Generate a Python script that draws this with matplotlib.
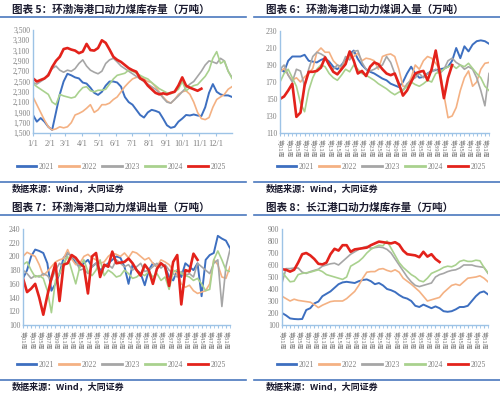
import matplotlib
matplotlib.use("Agg")
import matplotlib.pyplot as plt
from matplotlib.lines import Line2D
import numpy as np

plt.rcParams['font.family'] = ['Liberation Serif', 'Noto Sans CJK SC', 'DejaVu Sans']

years = ['2021', '2022', '2023', '2024', '2025']
colors = ['#3d6fc0', '#f4b183', '#a6a6a6', '#a9d18e', '#e3221b']
widths = [1.4, 1.2, 1.2, 1.2, 1.9]

# ---------- Panel 1: 环渤海港口动力煤库存量 (weekly samples, day-of-year) ----------
stock_days_step = 7
bh_stock_2021 = [1850, 1720, 1790, 1720, 1620, 1560, 1900, 2250, 2500, 2650, 2620, 2580, 2560,
                 2480, 2460, 2380, 2280, 2240, 2300, 2420, 2500, 2500, 2480, 2400, 2200, 2100,
                 2050, 1950, 1850, 1800, 1900, 1950, 1930, 1900, 1780, 1650, 1600, 1620, 1720,
                 1780, 1850, 1840, 1860, 1840, 1830, 2000, 2280, 2450, 2300, 2250, 2230, 2230, 2200]
bh_stock_2022 = [2200, 2050, 1900, 1750, 1620, 1560, 1580, 1620, 1600, 1620, 1700, 1850, 1880,
                 1920, 1980, 2050, 1900, 1950, 2050, 2050, 2080, 2150, 2200, 2300, 2400, 2480,
                 2550, 2580, 2600, 2550, 2500, 2480, 2400, 2300, 2200, 2120, 2080, 2150, 2250,
                 2300, 2320, 2250, 2100, 1900, 1780, 1760, 1800, 2000, 2150, 2200, 2250, 2350, 2400]
bh_stock_2023 = [2480, 2450, 2500, 2550, 2650, 2750, 2800, 2720, 2680, 2720, 2700, 2750, 2850,
                 2920, 2800, 2720, 2680, 2650, 2700, 2850, 2920, 2950, 2880, 2800, 2750, 2700,
                 2650, 2600, 2550, 2500, 2450, 2400, 2350, 2280, 2180, 2100, 2080, 2150, 2220,
                 2300, 2380, 2450, 2500, 2600, 2700, 2820, 2900, 2880, 2850, 2950, 2900, 2700, 2580]
bh_stock_2024 = [2460, 2400, 2350, 2300, 2250, 2100, 2050, 2250, 2220, 2200, 2180, 2200, 2300,
                 2380, 2400, 2320, 2300, 2330, 2330, 2350, 2450, 2550, 2620, 2640, 2660, 2720,
                 2700, 2660, 2620, 2580, 2550, 2480, 2420, 2360, 2320, 2280, 2260, 2300, 2350,
                 2500, 2320, 2380, 2420, 2440, 2520, 2600, 2720, 2950, 3080, 2850, 2900, 2700, 2560]
bh_stock_2025 = [2560, 2500, 2530, 2560, 2620, 2780, 2900, 2980, 3130, 3150, 3120, 3100, 3050,
                 3080, 3230, 3110, 3100, 3150, 3300, 3250, 3120, 2980, 2920, 2880, 2820, 2760,
                 2720, 2690, 2560, 2520, 2420, 2350, 2280, 2250, 2270, 2250, 2280, 2300, 2420,
                 2580, 2420, 2380, 2350, 2320, 2360]
month_labels = ['1/1', '2/1', '3/1', '4/1', '5/1', '6/1', '7/1', '8/1', '9/1', '10/1', '11/1', '12/1']
month_days = [0, 31, 59, 90, 120, 151, 181, 212, 243, 273, 304, 334]

# ---------- Panel 2: 环渤海港口动力煤调入量 (weekly) ----------
bh_in_2021 = [186, 182, 195, 200, 200, 200, 202, 195, 194, 193, 196, 198, 194, 188, 185, 190, 196,
              203, 207, 197, 190, 185, 182, 180, 177, 174, 172, 168, 166, 164, 170, 180, 188, 180,
              175, 176, 180, 183, 184, 185, 186, 188, 195, 210, 198, 212, 206, 214, 218, 219, 218, 215]
bh_in_2022 = [182, 186, 178, 172, 175, 170, 176, 180, 186, 205, 210, 205, 205, 195, 190, 185, 195,
              200, 200, 204, 195, 198, 197, 195, 185, 200, 202, 203, 200, 185, 165, 165, 175, 190,
              185, 195, 200, 198, 192, 185, 155, 128, 130, 140, 160, 175, 183, 165, 170, 185, 192, 193]
bh_in_2023 = [185, 190, 178, 170, 185, 183, 165, 185, 200, 205, 203, 200, 190, 185, 190, 188, 200,
              196, 206, 207, 193, 185, 183, 185, 188, 190, 200, 193, 180, 165, 160, 168, 172, 175,
              180, 175, 180, 182, 185, 180, 185, 195, 198, 193, 190, 185, 188, 185, 175, 160, 142, 180]
bh_in_2024 = [170, 180, 185, 175, 165, 145, 135, 160, 175, 185, 190, 188, 180, 175, 172, 178, 185,
              182, 190, 185, 180, 178, 175, 172, 168, 165, 162, 158, 155, 158, 160, 165, 170, 167,
              165, 168, 172, 170, 180, 182, 185, 188, 190, 186, 190, 188, 192, 186, 180, 175, 165, 160]
bh_in_2025 = [150, 153, 160, 168, 129, 134, 166, 182, 182, 183, 187, 199, 190, 182, 179, 185, 191,
              206, 195, 180, 183, 177, 188, 193, 191, 185, 180, 178, 180, 168, 154, 160, 170, 180,
              182, 183, 172, 185, 207, 180, 151, 175, 190]

# ---------- Panel 3: 环渤海港口动力煤调出量 (weekly) ----------
bh_out_2021 = [168, 180, 200, 210, 208, 205, 190, 150, 160, 175, 198, 205, 200, 190, 185, 190, 195,
               185, 190, 180, 185, 190, 195, 200, 198, 185, 160, 188, 180, 175, 158, 180, 190, 185,
               190, 185, 170, 165, 180, 170, 190, 185, 180, 190, 142, 195, 202, 205, 230, 226, 223, 212]
bh_out_2022 = [200, 206, 203, 200, 188, 172, 178, 185, 192, 195, 197, 210, 196, 188, 190, 200, 203,
               198, 195, 190, 192, 200, 205, 203, 200, 205, 198, 207, 205, 200, 195, 198, 190, 185,
               195, 192, 188, 180, 175, 160, 155, 158, 150, 146, 148, 150, 160, 195, 188, 170, 168, 185]
bh_out_2023 = [180, 175, 168, 172, 170, 175, 172, 165, 180, 190, 185, 205, 200, 195, 180, 182, 175,
               185, 190, 175, 185, 188, 183, 195, 190, 185, 188, 180, 185, 190, 178, 180, 185, 190,
               183, 188, 180, 175, 170, 178, 172, 175, 170, 190, 185, 180, 175, 190, 195, 127, 185, 210]
bh_out_2024 = [188, 192, 180, 170, 172, 168, 150, 118, 165, 175, 190, 200, 180, 160, 185, 195, 178,
               172, 180, 195, 172, 180, 176, 170, 172, 180, 175, 168, 170, 175, 172, 178, 170, 175,
               165, 170, 152, 178, 180, 175, 172, 170, 165, 168, 160, 150, 152, 195, 208, 195, 180, 178]
bh_out_2025 = [168, 148, 153, 160, 140, 115, 143, 168, 190, 135, 188, 190, 202, 198, 190, 185, 146,
               200, 205, 170, 188, 185, 207, 190, 191, 192, 197, 190, 180, 172, 188, 180, 160, 182,
               190, 185, 157, 192, 202, 130, 180, 178, 204, 195]

# ---------- Panel 4: 长江港口动力煤库存量 (weekly) ----------
cj_stock_2021 = [200, 180, 155, 150, 148, 150, 225, 240, 280, 295, 340, 360, 380, 410, 440, 455, 460,
                 455, 450, 465, 475, 480, 465, 440, 450, 430, 400, 390, 375, 350, 330, 320, 300, 260,
                 250, 270, 255, 240, 255, 240, 215, 210, 215, 230, 250, 250, 260, 300, 340, 370, 380, 355]
cj_stock_2022 = [340, 320, 300, 315, 305, 300, 295, 290, 270, 245, 265, 280, 295, 300, 300, 300, 320,
                 350, 380, 430, 490, 540, 545, 545, 565, 570, 555, 545, 560, 540, 490, 465, 440, 410,
                 380, 340, 300, 310, 320, 330, 370, 400, 430, 440, 430, 460, 490, 495, 500, 510, 490, 460]
cj_stock_2023 = [450, 570, 570, 575, 575, 540, 530, 545, 555, 565, 590, 600, 610, 615, 600, 630, 660,
                 690, 710, 730, 745, 755, 740, 745, 750, 745, 730, 700, 650, 600, 550, 500, 460, 430,
                 420, 430, 440, 450, 500, 520, 530, 545, 555, 560, 575, 600, 600, 600, 590, 585, 580, 530]
cj_stock_2024 = [540, 500, 460, 465, 520, 530, 535, 540, 550, 560, 545, 520, 510, 500, 490, 480, 500,
                 590, 610, 630, 660, 700, 730, 750, 765, 760, 800, 740, 680, 620, 580, 550, 520, 500,
                 470, 460, 490, 530, 545, 560, 580, 590, 585, 600, 630, 640, 630, 630, 640, 635, 580, 535]
cj_stock_2025 = [565, 560, 545, 560, 620, 690, 700, 680, 650, 610, 605, 620, 690, 735, 720, 765, 765,
                 710, 730, 735, 740, 745, 765, 780, 795, 790, 785, 780, 790, 770, 720, 690, 685, 680,
                 665, 710, 670, 690, 650, 625]

week_labels = ['第%02d周' % w for w in range(1, 52, 2)]
week_ticks = list(range(1, 52, 2))

W, H = 500, 396
fig = plt.figure(figsize=(5.0, 3.96), dpi=100)

def fx(px):
    return px / W

def fy(py):
    return 1 - py / H

title_color = '#1c1c30'
sep_color = '#4a78bd'
spine_color = '#9dc3e6'
tick_color = '#7f7f7f'
cjk = ['Noto Sans CJK SC', 'DejaVu Sans']


def add_axes(l, t, r, b):
    return fig.add_axes([fx(l), fy(b), fx(r) - fx(l), fy(t) - fy(b)])


def style(ax):
    for s in ['top', 'right']:
        ax.spines[s].set_visible(False)
    for s in ['left', 'bottom']:
        ax.spines[s].set_color(spine_color)
        ax.spines[s].set_linewidth(1.0)
    ax.tick_params(axis='y', length=0, labelsize=5.5, labelcolor=tick_color, pad=2)
    ax.tick_params(axis='x', length=2, color=spine_color, labelsize=5.5, labelcolor=tick_color, pad=2)


def weekly(ax, series, ylim, yticks):
    for y, c, lw, s in zip(years, colors, widths, series):
        ax.plot(np.arange(1, len(s) + 1), s, color=c, lw=lw, label=y, solid_joinstyle='round')
    ax.set_xlim(1, 52)
    ax.set_ylim(*ylim)
    ax.set_yticks(yticks)
    ax.set_xticks(week_ticks)
    ax.set_xticklabels(week_labels, rotation=-90, family=cjk, fontsize=4.3)
    ax.set_xticks(range(1, 53), minor=True)
    ax.tick_params(axis='x', which='minor', length=2, color=spine_color)
    ax.tick_params(axis='x', which='major', length=2, color=spine_color, pad=1.5)
    style(ax)
    ax.tick_params(axis='x', labelsize=4.3)


def legend(ax, cx, cy):
    handles = [Line2D([0], [0], color=c, lw=2.0) for c in colors]
    fig.legend(handles, years, loc='center', bbox_to_anchor=(fx(cx), fy(cy)), ncol=5, frameon=False,
               fontsize=5.5, handlelength=2.6, columnspacing=0.7, handletextpad=0.3,
               borderpad=0.1, borderaxespad=0.0, labelcolor=tick_color)


def frame(x0, x1, ytitle, yline1, yline2, ysrc, title):
    fig.text(fx(x0 + 12), fy(ytitle), title, family=cjk, fontweight='bold', fontsize=7.6,
             color=title_color, va='center', ha='left')
    fig.add_artist(Line2D([fx(x0), fx(x1)], [fy(yline1), fy(yline1)], color=sep_color, lw=1.2))
    fig.add_artist(Line2D([fx(x0), fx(x1)], [fy(yline2), fy(yline2)], color=sep_color, lw=1.2))
    fig.text(fx(x0 + 12), fy(ysrc), '数据来源：Wind，大同证券', family=cjk, fontweight='bold',
             fontsize=6.5, color=title_color, va='center', ha='left')


# Panel 1
ax1 = add_axes(33, 30, 232, 133)
series1 = [bh_stock_2021, bh_stock_2022, bh_stock_2023, bh_stock_2024, bh_stock_2025]
for y, c, lw, s in zip(years, colors, widths, series1):
    ax1.plot(np.arange(len(s)) * stock_days_step, s, color=c, lw=lw, solid_joinstyle='round')
ax1.set_xlim(0, 364)
ax1.set_ylim(1500, 3500)
ax1.set_yticks(range(1500, 3501, 200))
ax1.set_yticklabels(['{:,}'.format(v) for v in range(1500, 3501, 200)])
ax1.set_xticks(month_days)
ax1.set_xticklabels(month_labels)
style(ax1)
ax1.tick_params(axis='x', labelsize=6, pad=3)
legend(ax1, 121, 167)
frame(0, 246, 10, 17, 182, 189, '图表 5：环渤海港口动力煤库存量（万吨）')

# Panel 2
ax2 = add_axes(280, 31, 489, 133)
weekly(ax2, [bh_in_2021, bh_in_2022, bh_in_2023, bh_in_2024, bh_in_2025], (110, 230), range(110, 231, 20))
legend(ax2, 381, 167)
frame(254, 500, 10, 17, 182, 189, '图表 6：环渤海港口动力煤调入量（万吨）')

# Panel 3
ax3 = add_axes(23, 229, 230, 325)
weekly(ax3, [bh_out_2021, bh_out_2022, bh_out_2023, bh_out_2024, bh_out_2025], (100, 240), range(100, 241, 20))
legend(ax3, 121, 365)
frame(0, 246, 208, 215, 380, 387, '图表 7：环渤海港口动力煤调出量（万吨）')

# Panel 4
ax4 = add_axes(282, 229, 488, 325)
weekly(ax4, [cj_stock_2021, cj_stock_2022, cj_stock_2023, cj_stock_2024, cj_stock_2025], (100, 900), range(100, 901, 100))
legend(ax4, 381, 365)
frame(254, 500, 208, 215, 380, 387, '图表 8：长江港口动力煤库存量（万吨）')

fig.savefig('out.png', dpi=100)
